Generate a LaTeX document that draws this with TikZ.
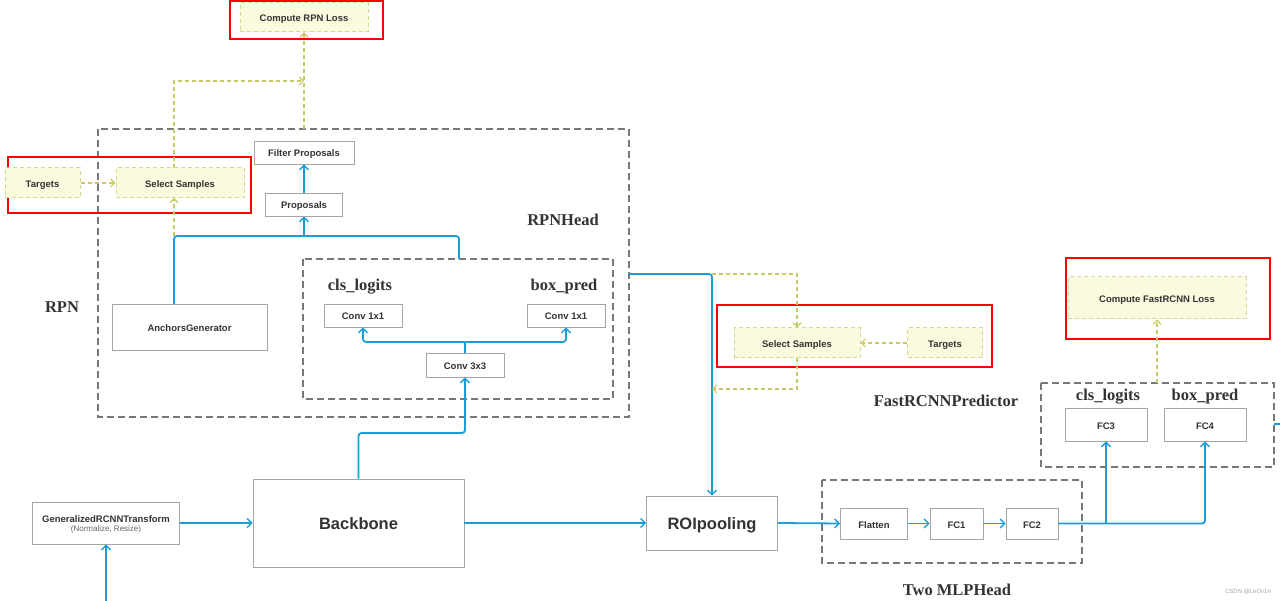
\documentclass[tikz,border=0pt]{standalone}
\usepackage{fontspec}
\setmainfont{Liberation Serif}
\setsansfont{Liberation Sans}
\usetikzlibrary{arrows.meta}
\definecolor{bl}{RGB}{27,158,216}
\definecolor{yfill}{RGB}{250,250,222}
\definecolor{yedge}{RGB}{214,214,140}
\definecolor{yline}{RGB}{200,200,100}
\definecolor{grp}{RGB}{120,120,120}
\definecolor{boxgray}{RGB}{165,165,165}
\definecolor{txt}{RGB}{51,51,51}
\tikzset{
  box/.style={draw=boxgray, fill=white, line width=0.9pt, inner sep=0pt, text=txt,
    text height=9pt, text depth=0pt,
    font=\sffamily\bfseries\fontsize{9.5}{11}\selectfont},
  bigbox/.style={box, text height=13.5pt, text depth=0pt, font=\sffamily\bfseries\fontsize{16.5}{19}\selectfont},
  ybox/.style={draw=yedge, fill=yfill, line width=1pt, dash pattern=on 4pt off 3pt, inner sep=0pt, text=txt,
    text height=9pt, text depth=0pt,
    font=\sffamily\bfseries\fontsize{9.5}{11}\selectfont},
  grpbox/.style={draw=grp, line width=1.2pt, dash pattern=on 7pt off 4pt},
  redbox/.style={draw=red, line width=2pt},
  lab/.style={text=txt, inner sep=0pt, font=\rmfamily\bfseries\fontsize{16.5}{19}\selectfont},
  bline/.style={draw=bl, line width=1.8pt, rounded corners=3pt},
  barrow/.style={bline, -{Straight Barb[length=4.5pt,width=9pt,line width=1.4pt]}},
  yl/.style={draw=yline, line width=1.3pt, dash pattern=on 4pt off 3pt},
  yarrow/.style={yl, -{Straight Barb[length=4pt,width=8pt,line width=1.1pt]}},
}
\begin{document}
\begin{tikzpicture}[x=1pt,y=-1pt]
\useasboundingbox[fill=white] (0,0) rectangle (1280,601);

% group boxes
\draw[grpbox] (98,129) rectangle (629,417);
\draw[grpbox] (303,259) rectangle (613,399);
\draw[grpbox] (822,480) rectangle (1082,563);
\draw[grpbox] (1041,383) rectangle (1274,467);

% red highlight boxes
\draw[redbox] (230,1) rectangle (383,39);
\draw[redbox] (8,157) rectangle (251,213);
\draw[redbox] (717,305) rectangle (992,367);
\draw[redbox] (1066,258) rectangle (1270,339);

% labels
\node[lab] (lrpn) at (62,307) {RPN};
\node[lab] (lrpnhead) at (563,220) {RPNHead};
\node[lab] (lcls1) at (360,287) {cls\_logits};
\node[lab] (lbox1) at (564,287) {box\_pred};
\node[lab] (lfast) at (946,401) {FastRCNNPredictor};
\node[lab] (lmlp) at (957,590) {Two MLPHead};
\node[lab] (lcls2) at (1108,397) {cls\_logits};
\node[lab] (lbox2) at (1205,397) {box\_pred};

% yellow boxes
\node[ybox, minimum width=128pt, minimum height=29pt] (rpnloss) at (304,17.5) {Compute RPN Loss};
\node[ybox, minimum width=75pt, minimum height=30pt] (tgt1) at (42.5,183) {Targets};
\node[ybox, minimum width=128pt, minimum height=30pt] (sel1) at (180,183) {Select Samples};
\node[ybox, minimum width=126pt, minimum height=30pt] (sel2) at (797,343) {Select Samples};
\node[ybox, minimum width=75pt, minimum height=30pt] (tgt2) at (945,343) {Targets};
\node[ybox, minimum width=178pt, minimum height=42pt] (fastloss) at (1157,298) {Compute FastRCNN Loss};

% white boxes
\node[box, minimum width=100pt, minimum height=23pt] (filt) at (304,152.5) {Filter Proposals};
\node[box, minimum width=77pt, minimum height=23pt] (prop) at (304,204.5) {Proposals};
\node[box, minimum width=155pt, minimum height=46pt] (anch) at (189.5,327) {AnchorsGenerator};
\node[box, minimum width=78pt, minimum height=23pt] (c1l) at (363,315.5) {Conv 1x1};
\node[box, minimum width=78pt, minimum height=23pt] (c1r) at (566,315.5) {Conv 1x1};
\node[box, minimum width=78pt, minimum height=24pt] (c3) at (465,365) {Conv 3x3};
\node[bigbox, minimum width=211pt, minimum height=88pt] (backbone) at (358.5,523) {Backbone};
\node[box, minimum width=147pt, minimum height=42pt] (trans) at (106,523) {};
\node[text=txt, inner sep=0pt, align=center, font=\sffamily\bfseries\fontsize{9.5}{11}\selectfont] (transtxt) at (106,524.5)
  {GeneralizedRCNNTransform\\[-1.5pt]{\mdseries\fontsize{8}{9}\selectfont\color{black!60}(Normalize, Resize)}};
\node[bigbox, minimum width=131pt, minimum height=54pt] (roi) at (712,523) {ROIpooling};
\node[box, minimum width=67pt, minimum height=31pt] (flat) at (874,523.5) {Flatten};
\node[box, minimum width=53pt, minimum height=31pt] (fc1) at (956.5,523.5) {FC1};
\node[box, minimum width=52pt, minimum height=31pt] (fc2) at (1032,523.5) {FC2};
\node[box, minimum width=82pt, minimum height=33pt] (fc3) at (1106,424.5) {FC3};
\node[box, minimum width=82pt, minimum height=33pt] (fc4) at (1205,424.5) {FC4};

% coordinates
\coordinate (inp) at (106,601);
\coordinate (anchtop) at (174,304);
\coordinate (j1) at (174,236);
\coordinate (j2) at (304,236);
\coordinate (innertop) at (459,259);
\coordinate (sel1top) at (174,168);
\coordinate (sel1bot) at (174,198);
\coordinate (j3) at (304,81);
\coordinate (headtop) at (304,129);
\coordinate (headright) at (629,274);
\coordinate (j4) at (712,274);
\coordinate (j5) at (712,389);
\coordinate (j6) at (465,342);
\coordinate (predtop) at (1157,383);
\coordinate (predright) at (1274,424);
\coordinate (offright) at (1280,424);

% blue connectors
\draw[barrow] (inp) -- (trans.south);
\draw[barrow] (trans.east) -- (backbone.west);
\draw[barrow] (backbone.east) -- (roi.west);
\draw[barrow] (backbone.north) -- (358.5,433) -- (465,433) -- (c3.south);
\draw[bline] (c3.north) -- (j6);
\draw[barrow] (j6) -| (c1l.south);
\draw[barrow] (j6) -| (c1r.south);
\draw[bline] (anchtop) -- (j1) -- (459,236) -- (innertop);
\draw[barrow] (j2) -- (prop.south);
\draw[barrow] (prop.north) -- (filt.south);
\draw[barrow] (headright) -- (j4) -- (roi.north);
\draw[barrow] (roi.east) -- (flat.west);
\draw[barrow] (flat.east) -- (fc1.west);
\draw[barrow] (fc1.east) -- (fc2.west);
\draw[barrow] (fc2.east) -- (1205,523.5) -- (fc4.south);
\draw[barrow] (1106,523.5) -- (fc3.south);
\draw[bline] (predright) -- (offright);

% yellow dashed connectors
\draw[yarrow] (j1) -- (sel1bot);
\draw[yarrow] (tgt1.east) -- (sel1.west);
\draw[yarrow] (sel1top) -- (174,81) -- (j3);
\draw[yarrow] (headtop) -- (rpnloss.south);
\draw[yarrow] (j4) -- (797,274) -- (sel2.north);
\draw[yarrow] (tgt2.west) -- (sel2.east);
\draw[yarrow] (sel2.south) -- (797,389) -- (j5);
\draw[yarrow] (predtop) -- (fastloss.south);

% watermark
\node[text=black!35, inner sep=0pt, font=\sffamily\fontsize{6}{7}\selectfont] (wm) at (1248,592) {CSDN @LeOv1n};
\end{tikzpicture}
\end{document}
